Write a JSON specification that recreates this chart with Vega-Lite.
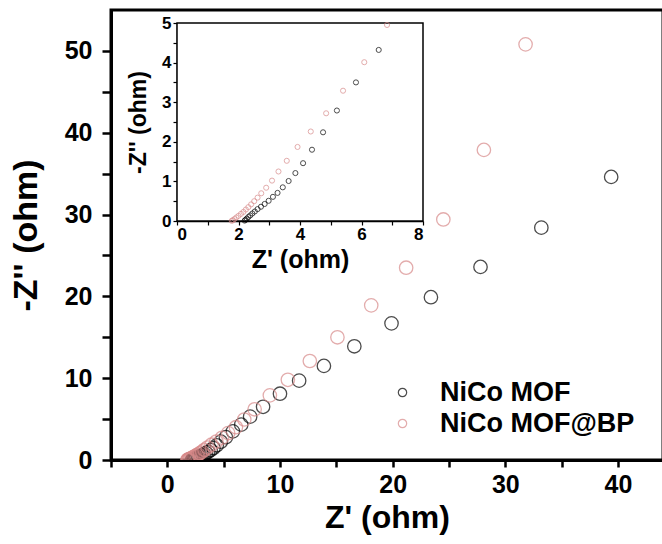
{
  "$schema": "https://vega.github.io/schema/vega-lite/v6.json",
  "autosize": "none",
  "width": 552,
  "height": 450,
  "padding": {"left": 111, "top": 10, "right": 0, "bottom": 84},
  "background": "white",
  "config": {
    "view": {"stroke": "black", "strokeWidth": 3},
    "font": "Liberation Sans"
  },
  "datasets": {
    "eis": [
      {"Z": 2.2, "Zpp": 0.01, "series": "NiCo MOF"},
      {"Z": 2.23, "Zpp": 0.03, "series": "NiCo MOF"},
      {"Z": 2.27, "Zpp": 0.06, "series": "NiCo MOF"},
      {"Z": 2.32, "Zpp": 0.1, "series": "NiCo MOF"},
      {"Z": 2.38, "Zpp": 0.14, "series": "NiCo MOF"},
      {"Z": 2.45, "Zpp": 0.19, "series": "NiCo MOF"},
      {"Z": 2.53, "Zpp": 0.24, "series": "NiCo MOF"},
      {"Z": 2.62, "Zpp": 0.3, "series": "NiCo MOF"},
      {"Z": 2.73, "Zpp": 0.36, "series": "NiCo MOF"},
      {"Z": 2.85, "Zpp": 0.43, "series": "NiCo MOF"},
      {"Z": 2.98, "Zpp": 0.51, "series": "NiCo MOF"},
      {"Z": 3.12, "Zpp": 0.61, "series": "NiCo MOF"},
      {"Z": 3.27, "Zpp": 0.71, "series": "NiCo MOF"},
      {"Z": 3.44, "Zpp": 0.85, "series": "NiCo MOF"},
      {"Z": 3.63, "Zpp": 1.01, "series": "NiCo MOF"},
      {"Z": 3.85, "Zpp": 1.21, "series": "NiCo MOF"},
      {"Z": 4.1, "Zpp": 1.46, "series": "NiCo MOF"},
      {"Z": 4.39, "Zpp": 1.8, "series": "NiCo MOF"},
      {"Z": 4.75, "Zpp": 2.24, "series": "NiCo MOF"},
      {"Z": 5.2, "Zpp": 2.79, "series": "NiCo MOF"},
      {"Z": 5.82, "Zpp": 3.5, "series": "NiCo MOF"},
      {"Z": 6.56, "Zpp": 4.32, "series": "NiCo MOF"},
      {"Z": 7.35, "Zpp": 5.3, "series": "NiCo MOF"},
      {"Z": 8.5, "Zpp": 6.5, "series": "NiCo MOF"},
      {"Z": 10.0, "Zpp": 8.1, "series": "NiCo MOF"},
      {"Z": 11.7, "Zpp": 9.7, "series": "NiCo MOF"},
      {"Z": 13.9, "Zpp": 11.5, "series": "NiCo MOF"},
      {"Z": 16.6, "Zpp": 13.9, "series": "NiCo MOF"},
      {"Z": 19.9, "Zpp": 16.7, "series": "NiCo MOF"},
      {"Z": 23.4, "Zpp": 19.9, "series": "NiCo MOF"},
      {"Z": 27.8, "Zpp": 23.6, "series": "NiCo MOF"},
      {"Z": 33.2, "Zpp": 28.4, "series": "NiCo MOF"},
      {"Z": 39.4, "Zpp": 34.6, "series": "NiCo MOF"},
      {"Z": 1.78, "Zpp": 0.005, "series": "NiCo MOF@BP"},
      {"Z": 1.82, "Zpp": 0.02, "series": "NiCo MOF@BP"},
      {"Z": 1.87, "Zpp": 0.05, "series": "NiCo MOF@BP"},
      {"Z": 1.93, "Zpp": 0.09, "series": "NiCo MOF@BP"},
      {"Z": 2.0, "Zpp": 0.13, "series": "NiCo MOF@BP"},
      {"Z": 2.08, "Zpp": 0.18, "series": "NiCo MOF@BP"},
      {"Z": 2.16, "Zpp": 0.23, "series": "NiCo MOF@BP"},
      {"Z": 2.24, "Zpp": 0.29, "series": "NiCo MOF@BP"},
      {"Z": 2.32, "Zpp": 0.35, "series": "NiCo MOF@BP"},
      {"Z": 2.41, "Zpp": 0.42, "series": "NiCo MOF@BP"},
      {"Z": 2.51, "Zpp": 0.5, "series": "NiCo MOF@BP"},
      {"Z": 2.62, "Zpp": 0.59, "series": "NiCo MOF@BP"},
      {"Z": 2.74, "Zpp": 0.7, "series": "NiCo MOF@BP"},
      {"Z": 2.9, "Zpp": 0.84, "series": "NiCo MOF@BP"},
      {"Z": 3.09, "Zpp": 1.02, "series": "NiCo MOF@BP"},
      {"Z": 3.3, "Zpp": 1.25, "series": "NiCo MOF@BP"},
      {"Z": 3.57, "Zpp": 1.52, "series": "NiCo MOF@BP"},
      {"Z": 3.92, "Zpp": 1.87, "series": "NiCo MOF@BP"},
      {"Z": 4.35, "Zpp": 2.26, "series": "NiCo MOF@BP"},
      {"Z": 4.85, "Zpp": 2.72, "series": "NiCo MOF@BP"},
      {"Z": 5.4, "Zpp": 3.29, "series": "NiCo MOF@BP"},
      {"Z": 6.09, "Zpp": 4.01, "series": "NiCo MOF@BP"},
      {"Z": 6.83, "Zpp": 4.95, "series": "NiCo MOF@BP"},
      {"Z": 7.75, "Zpp": 6.2, "series": "NiCo MOF@BP"},
      {"Z": 9.1, "Zpp": 7.9, "series": "NiCo MOF@BP"},
      {"Z": 10.7, "Zpp": 9.8, "series": "NiCo MOF@BP"},
      {"Z": 12.65, "Zpp": 12.1, "series": "NiCo MOF@BP"},
      {"Z": 15.1, "Zpp": 15.0, "series": "NiCo MOF@BP"},
      {"Z": 18.1, "Zpp": 18.9, "series": "NiCo MOF@BP"},
      {"Z": 21.2, "Zpp": 23.5, "series": "NiCo MOF@BP"},
      {"Z": 24.5, "Zpp": 29.4, "series": "NiCo MOF@BP"},
      {"Z": 28.1, "Zpp": 37.9, "series": "NiCo MOF@BP"},
      {"Z": 31.8, "Zpp": 50.8, "series": "NiCo MOF@BP"}
    ],
    "frame": [{"x0": 0, "x1": 8, "y0": 0, "y1": 5}]
  },
  "layer": [
    {
      "data": {"name": "eis"},
      "mark": {"type": "point", "shape": "circle", "filled": false, "size": 180, "strokeWidth": 1.3, "clip": true},
      "encoding": {
        "x": {
          "field": "Z", "type": "quantitative",
          "scale": {"domain": [-5, 44], "nice": false, "zero": false},
          "axis": {
            "orient": "bottom", "grid": false,
            "values": [-5, 0, 5, 10, 15, 20, 25, 30, 35, 40],
            "labelExpr": "datum.value % 10 === 0 ? datum.label : ''",
            "domainColor": "black", "domainWidth": 3,
            "tickColor": "black", "tickWidth": 2.5, "tickSize": 7,
            "labelFont": "Liberation Sans", "labelFontSize": 25, "labelFontWeight": "bold", "labelColor": "black", "labelPadding": 5,
            "title": "Z' (ohm)", "titleFont": "Liberation Sans", "titleFontSize": 32, "titleFontWeight": "bold", "titleColor": "black", "titlePadding": 5
          }
        },
        "y": {
          "field": "Zpp", "type": "quantitative",
          "scale": {"domain": [0, 55], "nice": false, "zero": false},
          "axis": {
            "orient": "left", "grid": false,
            "values": [0, 5, 10, 15, 20, 25, 30, 35, 40, 45, 50],
            "labelExpr": "datum.value % 10 === 0 ? datum.label : ''",
            "domainColor": "black", "domainWidth": 3,
            "tickColor": "black", "tickWidth": 2.5, "tickSize": 9,
            "labelFont": "Liberation Sans", "labelFontSize": 25, "labelFontWeight": "bold", "labelColor": "black", "labelPadding": 10,
            "title": "-Z'' (ohm)", "titleFont": "Liberation Sans", "titleFontSize": 34, "titleFontWeight": "bold", "titleColor": "black", "titlePadding": 21
          }
        },
        "color": {
          "field": "series", "type": "nominal",
          "scale": {"domain": ["NiCo MOF", "NiCo MOF@BP"], "range": ["#000000", "#d88a8a"]},
          "legend": {
            "orient": "none", "legendX": 278, "legendY": 369, "title": null,
            "symbolType": "circle", "symbolSize": 70, "symbolStrokeWidth": 1.2, "symbolFillColor": "transparent",
            "labelFont": "Liberation Sans", "labelFontSize": 27, "labelFontWeight": "bold", "labelColor": "black",
            "labelOffset": 24, "labelLimit": 0, "rowPadding": 3, "padding": 0
          }
        }
      }
    },
    {
      "layer": [
        {
          "data": {"name": "frame"},
          "mark": {"type": "rect", "fill": "white", "stroke": "black", "strokeWidth": 1.5},
          "encoding": {
            "x": {"field": "x0", "type": "quantitative"},
            "x2": {"field": "x1"},
            "y": {"field": "y0", "type": "quantitative"},
            "y2": {"field": "y1"}
          }
        },
        {
          "data": {"name": "eis"},
          "transform": [{"filter": "datum.Z <= 8 && datum.Zpp <= 5"}],
          "mark": {"type": "point", "shape": "circle", "filled": false, "size": 26, "strokeWidth": 1},
          "encoding": {
            "x": {"field": "Z", "type": "quantitative"},
            "y": {"field": "Zpp", "type": "quantitative"},
            "color": {"field": "series", "type": "nominal", "legend": null}
          }
        }
      ],
      "encoding": {
        "x": {
          "type": "quantitative",
          "scale": {"domain": [0, 8], "range": [66, 312], "nice": false, "zero": false},
          "axis": {
            "orient": "bottom", "offset": -239, "grid": false,
            "values": [0, 1, 2, 3, 4, 5, 6, 7, 8],
            "labelExpr": "datum.value % 2 === 0 ? format(datum.value, 'd') : ''",
            "domainColor": "black", "domainWidth": 1.5,
            "tickColor": "black", "tickWidth": 1.2, "tickSize": 4,
            "labelFont": "Liberation Sans", "labelFontSize": 17, "labelFontWeight": "bold", "labelColor": "black", "labelPadding": 1,
            "title": "Z' (ohm)", "titleFont": "Liberation Sans", "titleFontSize": 25, "titleFontWeight": "bold", "titleColor": "black", "titlePadding": 5
          }
        },
        "y": {
          "type": "quantitative",
          "scale": {"domain": [0, 5], "range": [211, 13], "nice": false, "zero": false},
          "axis": {
            "orient": "left", "offset": -66, "grid": false,
            "values": [0, 0.5, 1, 1.5, 2, 2.5, 3, 3.5, 4, 4.5, 5],
            "labelExpr": "datum.value % 1 === 0 ? format(datum.value, 'd') : ''",
            "domainColor": "black", "domainWidth": 1.5,
            "tickColor": "black", "tickWidth": 1.2, "tickSize": 4,
            "labelFont": "Liberation Sans", "labelFontSize": 17, "labelFontWeight": "bold", "labelColor": "black", "labelPadding": 2,
            "title": "-Z'' (ohm)", "titleFont": "Liberation Sans", "titleFontSize": 23, "titleFontWeight": "bold", "titleColor": "black", "titlePadding": 11
          }
        }
      }
    }
  ],
  "resolve": {
    "scale": {"x": "independent", "y": "independent"},
    "axis": {"x": "independent", "y": "independent"}
  }
}
